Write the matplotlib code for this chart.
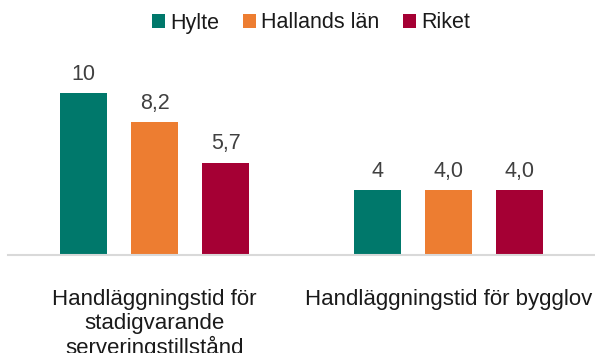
import matplotlib.pyplot as plt
import numpy as np

plt.rcParams['font.family'] = ['Liberation Sans', 'DejaVu Sans']

categories = ['Handläggningstid för\nstadigvarande\nserveringstillstånd',
              'Handläggningstid för bygglov']
series = ['Hylte', 'Hallands län', 'Riket']
values = {
    'Hylte': [10, 4],
    'Hallands län': [8.2, 4.0],
    'Riket': [5.7, 4.0],
}
labels = {
    'Hylte': ['10', '4'],
    'Hallands län': ['8,2', '4,0'],
    'Riket': ['5,7', '4,0'],
}
colors = ['#00786B', '#ED7D31', '#A50034']

fig = plt.figure(figsize=(5.95, 3.53), dpi=100)
ax = fig.add_axes([8 / 595, 1 - 254.7 / 353, 587 / 595, 194 / 353])

x = np.arange(len(categories))
width = 0.16
step = 0.242
for i, name in enumerate(series):
    pos = x + (i - 1) * step
    bars = ax.bar(pos, values[name], width, color=colors[i], label=name)
    for b, txt in zip(bars, labels[name]):
        ax.annotate(txt, (b.get_x() + b.get_width() / 2, b.get_height()),
                    xytext=(0, 6), textcoords='offset points',
                    ha='center', va='bottom', fontsize=15.5, color='#404040')

ax.set_xlim(-0.5, 1.5)
ax.set_ylim(0, 12)
ax.set_xticks(x)
ax.set_xticklabels(categories, fontsize=16, color='#1a1a1a', linespacing=1.13)
ax.tick_params(axis='x', length=0, pad=25)
ax.set_yticks([])
for s in ['top', 'right', 'left']:
    ax.spines[s].set_visible(False)
ax.spines['bottom'].set_color('#D9D9D9')
ax.spines['bottom'].set_linewidth(1.5)

leg = fig.legend(loc='center', bbox_to_anchor=(311 / 595, 1 - 23 / 353),
                 ncol=3, frameon=False, fontsize=15.5, handlelength=0.6,
                 handleheight=0.6, handletextpad=0.25, columnspacing=1.1)
for t in leg.get_texts():
    t.set_color('#1a1a1a')

fig.savefig('out.png', dpi=100)
